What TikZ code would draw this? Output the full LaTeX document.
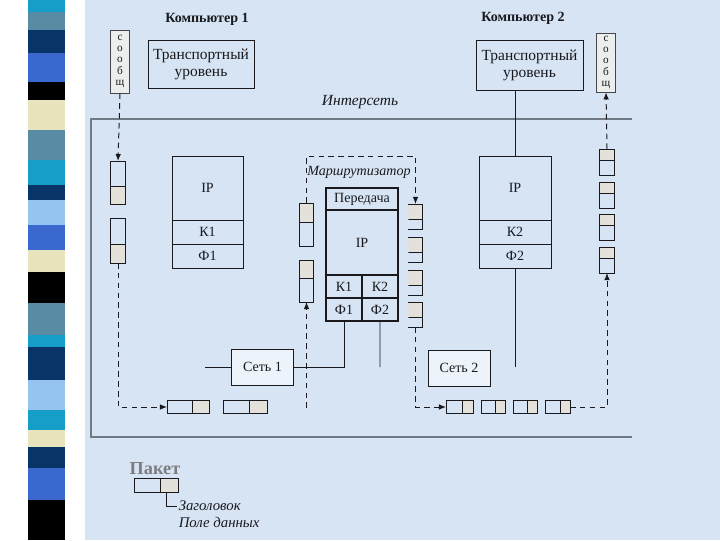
\documentclass[tikz,border=0pt]{standalone}
\usepackage{fontspec}
\setmainfont{Liberation Serif}
\usetikzlibrary{positioning,calc,arrows.meta}
\definecolor{bgblue}{RGB}{214,228,244}
\definecolor{frm}{RGB}{112,122,132}
\definecolor{ink}{RGB}{25,25,30}
\definecolor{beig}{RGB}{228,224,218}
\definecolor{msgfill}{RGB}{236,238,238}
\definecolor{pakgray}{RGB}{125,125,128}
\definecolor{stTeal}{RGB}{20,158,200}
\definecolor{stSteel}{RGB}{88,140,165}
\definecolor{stNavy}{RGB}{8,52,104}
\definecolor{stRoyal}{RGB}{58,104,206}
\definecolor{stBeige}{RGB}{232,228,190}
\definecolor{stLight}{RGB}{150,196,240}

\begin{document}
\begin{tikzpicture}[x=0.025cm,y=-0.025cm,color=ink,line width=0.5pt,
  box/.style={draw,inner sep=1pt,outer sep=0pt,font=\fontsize{10}{11}\selectfont},
  rbox/.style={box,line width=0.8pt,minimum width=1.8cm},
  title/.style={font=\bfseries\fontsize{10}{11}\selectfont},
  ital/.style={font=\itshape\fontsize{10}{11}\selectfont},
  msgbox/.style={draw=ink!80,fill=msgfill,minimum width=0.46cm,inner sep=0pt,align=center,font=\fontsize{8}{8}\selectfont},
  cell/.style={inner sep=0pt,outer sep=0pt,minimum width=0.36cm},
  upfill/.style={path picture={
    \fill[beig] (path picture bounding box.north west) rectangle ($(path picture bounding box.north east)!#1!(path picture bounding box.south east)$);
    \draw ($(path picture bounding box.north west)!#1!(path picture bounding box.south west)$) -- ($(path picture bounding box.north east)!#1!(path picture bounding box.south east)$);}},
  lowfill/.style={path picture={
    \fill[beig] ($(path picture bounding box.north west)!#1!(path picture bounding box.south west)$) rectangle (path picture bounding box.south east);
    \draw ($(path picture bounding box.north west)!#1!(path picture bounding box.south west)$) -- ($(path picture bounding box.north east)!#1!(path picture bounding box.south east)$);}},
  rightfill/.style={path picture={
    \fill[beig] ($(path picture bounding box.north west)!#1!(path picture bounding box.north east)$) rectangle (path picture bounding box.south east);
    \draw ($(path picture bounding box.north west)!#1!(path picture bounding box.north east)$) -- ($(path picture bounding box.south west)!#1!(path picture bounding box.south east)$);}},
  dashline/.style={dashed,dash pattern=on 4pt off 3pt,line width=0.7pt},
  dasharrow/.style={dashline,-{Latex[length=5pt,width=4pt]}},
  netbox/.style={box,fill=bgblue!45!white,minimum width=1.55cm,minimum height=0.9cm}]
  \useasboundingbox (0,0) rectangle (720,540);
  \fill[white] (0,0) rectangle (85,540);
  \fill[bgblue] (85,0) rectangle (720,540);
  % left stripes
  \foreach \ya/\yb/\c in {0/12/stTeal,12/30/stSteel,30/53/stNavy,53/82/stRoyal,82/100/black,100/130/stBeige,130/160/stSteel,160/185/stTeal,185/200/stNavy,200/225/stLight,225/250/stRoyal,250/272/stBeige,272/303/black,303/335/stSteel,335/347/stTeal,347/380/stNavy,380/410/stLight,410/430/stTeal,430/447/stBeige,447/468/stNavy,468/500/stRoyal,500/540/black}
  {
  \fill[\c] (28,\ya) rectangle (65,\yb);
  }
  % internet frame
  \draw[frm,line width=2pt] (632,119) -- (91,119) -- (91,437) -- (632,437);
  \node[ital,font=\itshape\fontsize{11}{12}\selectfont] (inet) at (360,102) {Интерсеть};

  % computers
  \node[title] (comp1) at (207,19) {Компьютер 1};
  \node[title] (comp2) at (523,18) {Компьютер 2};
  \node[box,align=center,minimum width=2.65cm,minimum height=1.2cm,font=\fontsize{11}{12}\selectfont] (tr1) at (201,64) {Транспортный\\уровень};
  \node[box,align=center,minimum width=2.675cm,minimum height=1.25cm,font=\fontsize{11}{12}\selectfont] (tr2) at (529.5,65) {Транспортный\\уровень};
  \node[msgbox,minimum height=1.575cm] (msg1) at (120,61.5) {с\\о\\о\\б\\щ};
  \node[msgbox,minimum height=1.475cm] (msg2) at (606,62.5) {с\\о\\о\\б\\щ};

  \node[box,minimum width=1.775cm,minimum height=1.6cm] (ip1) at (207.5,188) {IP};
  \node[box,minimum width=1.775cm,minimum height=0.6cm,below=0pt of ip1] (k1) {К1};
  \node[box,minimum width=1.775cm,minimum height=0.6cm,below=0pt of k1] (f1) {Ф1};
  \node[box,minimum width=1.8cm,minimum height=1.6cm] (ip2) at (515,188) {IP};
  \node[box,minimum width=1.8cm,minimum height=0.6cm,below=0pt of ip2] (k2) {К2};
  \node[box,minimum width=1.8cm,minimum height=0.6cm,below=0pt of k2] (f2) {Ф2};

  % router
  \node[rbox,minimum height=0.55cm] (pered) at (362,199) {Передача};
  \node[rbox,minimum height=1.625cm,below=0pt of pered] (ipr) {IP};
  \node[rbox,minimum width=0.9cm,minimum height=0.575cm,anchor=north west] (k1r) at (ipr.south west) {К1};
  \node[rbox,minimum width=0.9cm,minimum height=0.575cm,right=0pt of k1r] (k2r) {К2};
  \node[rbox,minimum width=0.9cm,minimum height=0.575cm,below=0pt of k1r] (f1r) {Ф1};
  \node[rbox,minimum width=0.9cm,minimum height=0.575cm,below=0pt of k2r] (f2r) {Ф2};
  \node[ital] (rlab) at (359,172) {Маршрутизатор};
  \coordinate (rtop) at (360,156);

  % queues
  \foreach \n/\yc/\h in {1/182.5/1.075,2/240.5/1.125}
  {
  \node[cell,draw,lowfill=0.58,minimum height=\h cm] (L\n) at (118,\yc) {};
  }
  \foreach \n/\yc/\h in {1/224.5/1.075,2/281/1.05}
  {
  \node[cell,draw,upfill=0.44,minimum height=\h cm] (RL\n) at (306.5,\yc) {};
  }
  \foreach \n/\yc in {1/216.5,2/249.5,3/282.5,4/314.5}
  {
  \node[cell,upfill=0.6,minimum height=0.625cm] (RR\n) at (415.5,\yc) {};
  \draw (RR\n.north west) -- (RR\n.north east) -- (RR\n.south east) -- (RR\n.south west);
  }
  \foreach \n/\yc in {1/162,2/195,3/227,4/260}
  {
  \node[cell,draw,upfill=0.42,minimum height=0.65cm] (RS\n) at (607,\yc) {};
  }
  \foreach \n/\xc/\w in {1/188/1.05,2/245/1.1}
  {
  \node[cell,draw,rightfill=0.6,minimum width=\w cm,minimum height=0.33cm] (P\n) at (\xc,407) {};
  }
  \foreach \n/\xc/\w in {1/459.5/0.675,2/493/0.6,3/525/0.6,4/557.5/0.625}
  {
  \node[cell,draw,rightfill=0.6,minimum width=\w cm,minimum height=0.33cm] (Q\n) at (\xc,407) {};
  }

  % networks
  \node[netbox] (net1) at (262.5,367) {Сеть 1};
  \node[netbox] (net2) at (459,368) {Сеть 2};
  \coordinate (e1) at (205,367);
  \coordinate (e2) at (515,367);
  \coordinate (e3) at (380,367);
  \coordinate (rin) at (306.5,408);

  % solid links
  \draw (ip2.north) -- (ip2.north |- tr2.south);
  \draw (f2.south) -- (e2);
  \draw (e1) -- (net1.west);
  \draw (net1.east) -| (f1r.south);
  \draw (f2r.south) -- (e3);

  % packet route
  \draw[dasharrow] (msg1.south) -- (L1.north);
  \draw[dasharrow] (L2.south) |- (P1.west);
  \draw[dasharrow] (rin) -- (RL2.south);
  \draw[dasharrow] (RL1.north) -- (RL1.north |- rtop) -| (RR1.north);
  \draw[dasharrow] (RR4.south) |- (Q1.west);
  \draw[dasharrow] (Q4.east) -| (RS4.south);
  \draw[dasharrow] (RS1.north) -- (msg2.south);

  % legend
  \node[font=\bfseries\fontsize{13}{14}\selectfont,text=pakgray] (pak) at (155,469) {Пакет};
  \node[cell,draw,rightfill=0.59,minimum width=1.1cm,minimum height=0.35cm] (PK) at (156,485) {};
  \node[ital,anchor=west,inner sep=1pt,font=\itshape\fontsize{10.5}{11}\selectfont] (lgd1) at (177,506) {Заголовок};
  \node[ital,anchor=west,inner sep=1pt,font=\itshape\fontsize{10.5}{11}\selectfont] (lgd2) at (177,522) {Поле данных};
  \draw ($(PK.south west)!0.73!(PK.south east)$) |- (lgd1.west);
\end{tikzpicture}
\end{document}
